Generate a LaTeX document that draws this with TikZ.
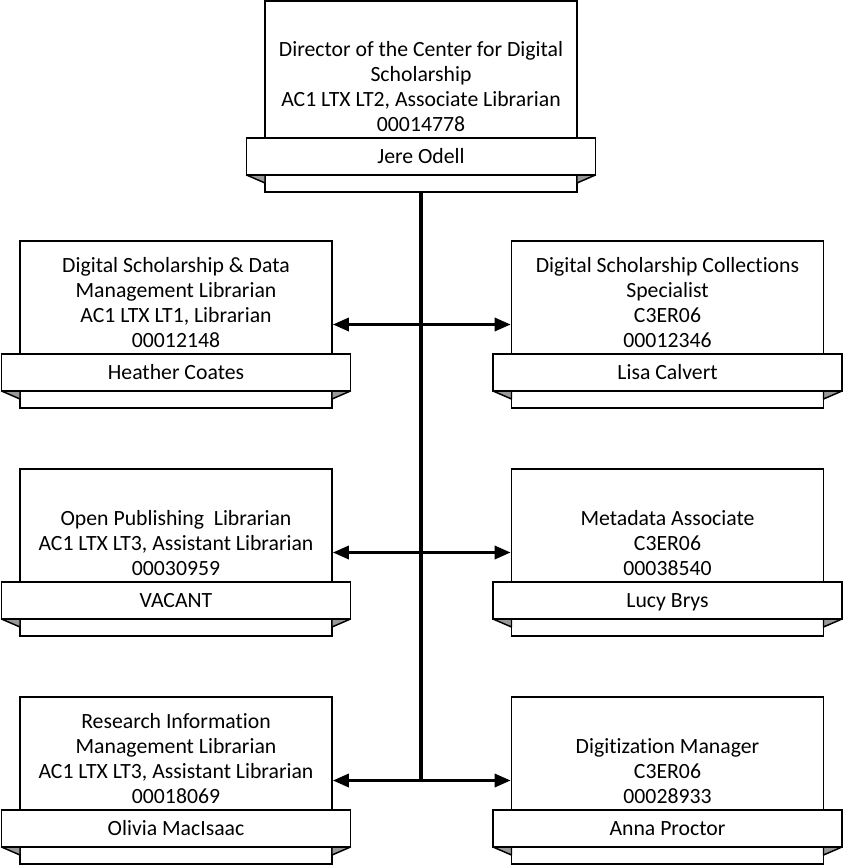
\documentclass[tikz,border=0pt]{standalone}
\usepackage{fontspec}
\setmainfont{Carlito}[Ligatures={NoCommon}]
\usetikzlibrary{arrows.meta}
\begin{document}
\begin{tikzpicture}[x=0.75pt,y=-0.75pt,
  rectbox/.style={draw, line width=1.4pt, fill=white, minimum width={312*0.75pt}, inner sep=0pt, outer sep=0pt},
  banner/.style={draw, line width=1.4pt, fill=white, minimum width={349*0.75pt}, minimum height={37*0.75pt}, inner sep=0pt, outer sep=0pt, text height=10pt, text depth=0pt, font=\fontsize{16.3}{18.75}\selectfont},
  wedge/.style={draw, line width=1.1pt, fill=black!40, line join=round},
  title/.style={align=center, inner sep=0pt, anchor=south, font=\fontsize{16.3}{18.75}\selectfont},
  trunk/.style={line width=2.4pt},
  link/.style={line width=2pt, {Triangle[length=12pt,width=10pt]}-{Triangle[length=12pt,width=10pt]}, shorten <=0.7pt, shorten >=0.7pt}]
\useasboundingbox (0,0) rectangle (842,866);
\newcommand\orgunit[6]{%
  % #1 name, #2 x centre, #3 y top, #4 height, #5 title, #6 person
  \node[rectbox, minimum height={#4*0.75pt}] (#1) at (#2,{#3+#4/2}) {};
  \filldraw[wedge] ({#2-174.5},{#3+#4-17}) -- ({#2-156},{#3+#4-17}) -- ({#2-156},{#3+#4-9}) -- cycle;
  \filldraw[wedge] ({#2+174.5},{#3+#4-17}) -- ({#2+156},{#3+#4-17}) -- ({#2+156},{#3+#4-9}) -- cycle;
  \node[banner] (#1-name) at (#2,{#3+#4-35.5}) {#6};
  \node[title] (#1-title) at (#2,{#3+#4-60}) {#5};
}
\orgunit{D}{421}{1}{191}{Director of the Center for Digital\\Scholarship\\AC1 LTX LT2, Associate Librarian\\00014778}{Jere Odell}
\orgunit{L1}{176}{241}{167}{Digital Scholarship \& Data\\Management Librarian\\AC1 LTX LT1, Librarian\\00012148}{Heather Coates}
\orgunit{R1}{667.5}{241}{167}{Digital Scholarship Collections\\Specialist\\C3ER06\\00012346}{Lisa Calvert}
\orgunit{L2}{176}{469}{167}{Open Publishing\ \ Librarian\\AC1 LTX LT3, Assistant Librarian\\00030959}{VACANT}
\orgunit{R2}{667.5}{469}{167}{Metadata Associate\\C3ER06\\00038540}{Lucy Brys}
\orgunit{L3}{176}{697}{167}{Research Information\\Management Librarian\\AC1 LTX LT3, Assistant Librarian\\00018069}{Olivia MacIsaac}
\orgunit{R3}{667.5}{697}{167}{Digitization Manager\\C3ER06\\00028933}{Anna Proctor}
\draw[trunk] (D.south) -- (D.south |- L3.east);
\draw[link] (L1.east) -- (R1.west);
\draw[link] (L2.east) -- (R2.west);
\draw[link] (L3.east) -- (R3.west);
\end{tikzpicture}
\end{document}
